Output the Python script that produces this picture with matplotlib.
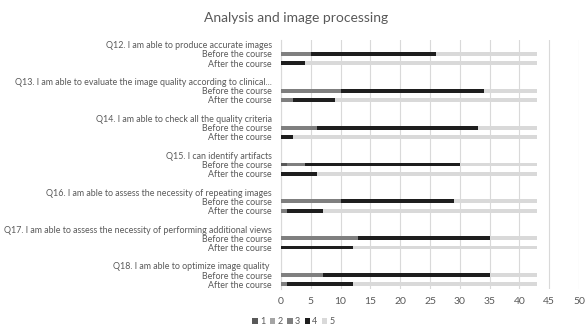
import matplotlib.pyplot as plt
from matplotlib.patches import Patch

# Данные
questions = [
    'Q12. I am able to produce accurate images',
    'Q13. I am able to evaluate the image quality according to clinical...',
    'Q14. I am able to check all the quality criteria',
    'Q15. I can identify artifacts',
    'Q16. I am able to assess the necessity of repeating images',
    'Q17. I am able to assess the necessity of performing additional views',
    'Q18. I am able to optimize image quality ',
]
levels = ['1', '2', '3', '4', '5']
colors = ['#595959', '#a5a5a5', '#7f7f7f', '#1e1e1e', '#d9d9d9']

before_1 = [0, 0, 0, 1, 0, 0, 0]
before_2 = [0, 0, 0, 0, 0, 0, 0]
before_3 = [5, 10, 6, 3, 10, 13, 7]
before_4 = [21, 24, 27, 26, 19, 22, 28]
before_5 = [17, 9, 10, 13, 14, 8, 8]

after_1 = [0, 0, 0, 0, 0, 0, 0]
after_2 = [0, 0, 0, 0, 0, 0, 0]
after_3 = [0, 2, 0, 0, 1, 0, 1]
after_4 = [4, 7, 2, 6, 6, 12, 11]
after_5 = [39, 34, 41, 37, 36, 31, 31]

before = [before_1, before_2, before_3, before_4, before_5]
after = [after_1, after_2, after_3, after_4, after_5]

text_color = '#595959'
plt.rcParams['font.family'] = ['Lato', 'DejaVu Sans']

fig = plt.figure(figsize=(5.87, 3.28), dpi=100)
ax = fig.add_axes([281 / 587, 1 - 289 / 328, (579 - 281) / 587, (289 - 40) / 328])

# Позиции строк: подпись вопроса, до курса, после курса, пропуск
ticks, labels = [], []
for i, q in enumerate(questions):
    base = i * 4
    ticks += [base, base + 1, base + 2]
    labels += [q, 'Before the course', 'After the course']

    for row, data in ((base + 1, before), (base + 2, after)):
        left = 0
        for k in range(5):
            val = data[k][i]
            ax.barh(row, val, left=left, height=0.42, color=colors[k],
                    edgecolor='none', zorder=3)
            left += val

ax.set_xlim(0, 50)
ax.set_ylim(26.5, -0.5)
ax.set_xticks(range(0, 51, 5))
ax.set_yticks(ticks)
ax.set_yticklabels(labels, fontsize=6.4, color=text_color)
ax.tick_params(axis='x', labelsize=7.5, colors=text_color, length=0, pad=6)
ax.tick_params(axis='y', length=0, pad=6.5)

# Сетка
ax.grid(axis='x', color='#d9d9d9', linewidth=0.8, zorder=0)
for side in ('top', 'right', 'bottom'):
    ax.spines[side].set_visible(False)
ax.spines['left'].set_color('#d9d9d9')

fig.text(0.505, 1 - 18 / 328, 'Analysis and image processing', ha='center',
         va='center', fontsize=10, color=text_color)

handles = [Patch(facecolor=c, edgecolor='none') for c in colors]
fig.legend(handles, levels, loc='center', bbox_to_anchor=(0.5, 1 - 322 / 328),
           ncol=5, frameon=False, fontsize=6.5, labelcolor=text_color,
           handlelength=0.6, handleheight=0.6, handletextpad=0.25,
           columnspacing=0.5)

fig.savefig('out.png', dpi=100)
